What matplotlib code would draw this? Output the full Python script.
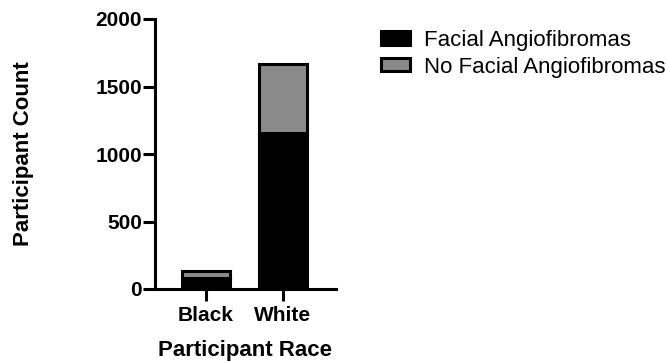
import numpy as np
import matplotlib
matplotlib.use("Agg")
import matplotlib.pyplot as plt

# Data:
races = ["Black", "White"]
facial = [85, 1155]
no_facial = [52, 515]
series_names = ["Facial Angiofibromas", "No Facial Angiofibromas"]

plt.rcParams["font.family"] = ["Liberation Sans", "DejaVu Sans"]

W, H = 666, 361
fig = plt.figure(figsize=(W / 100, H / 100), dpi=100)
# axes box in pixels: left 155, right 336, top 19, bottom 289
ax = fig.add_axes([155 / W, 1 - 289 / H, (336 - 155) / W, (289 - 19) / H])

x = np.arange(len(races))
width = 0.62
edge = 2.2
b1 = ax.bar(x, facial, width, color="black", edgecolor="black", linewidth=edge, label=series_names[0])
b2 = ax.bar(x, no_facial, width, bottom=facial, color="#8a8a8a", edgecolor="black", linewidth=edge, label=series_names[1])

ax.set_xlim(-0.66, 1.69)
ax.set_ylim(0, 2000)
ax.set_yticks([0, 500, 1000, 1500, 2000])
ax.set_xticks(x)
ax.set_xticklabels(races)

for s in ["top", "right"]:
    ax.spines[s].set_visible(False)
for s in ["left", "bottom"]:
    ax.spines[s].set_linewidth(2.2)
ax.tick_params(axis="both", width=2.2, length=8.5, labelsize=15)
ax.tick_params(axis="y", pad=1)
ax.tick_params(axis="x", pad=4)
for lab in ax.get_xticklabels() + ax.get_yticklabels():
    lab.set_fontweight("bold")

ax.set_xlabel("Participant Race", fontsize=16, fontweight="bold")
ax.set_ylabel("Participant Count", fontsize=16, fontweight="bold")
ax.xaxis.set_label_coords(0.5, -0.19)
ax.yaxis.set_label_coords(-0.667, 0.5)

leg = fig.legend(handles=[b1, b2], loc="upper left", bbox_to_anchor=(361 / W, 1 - 10 / H),
                 frameon=False, fontsize=16, handlelength=1.3, handleheight=0.55,
                 handletextpad=0.65, labelspacing=0.25)

fig.savefig("out.png", dpi=100)
